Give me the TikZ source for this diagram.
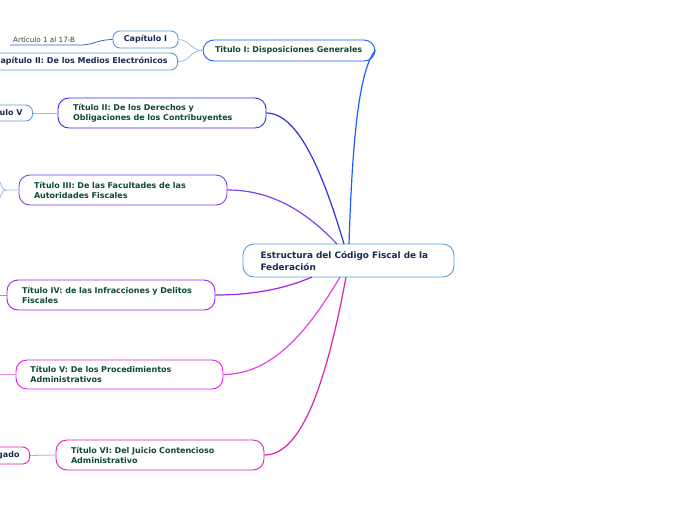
\documentclass[tikz,border=0pt]{standalone}
\usepackage{fontspec}
\setmainfont{DejaVu Sans}
\begin{document}
\begin{tikzpicture}[x=1pt,y=-1pt,
  every node/.style={font=\bfseries\fontsize{8}{10}\selectfont},
  pill/.style={draw, line width=0.9pt, rounded corners=11pt, fill=white, align=left, inner sep=0pt},
  title/.style={pill, text=titlecol, minimum height=30pt, minimum width=208pt, text width=178pt},
  sub/.style={pill, rounded corners=7pt, text=navy, minimum height=17pt, inner xsep=10pt},
  conn/.style={line width=1.2pt},
  subconn/.style={line width=0.8pt}
]
\definecolor{titlecol}{HTML}{0D4A35}
\definecolor{navy}{HTML}{1A2A50}
\definecolor{cenb}{HTML}{5AA0D8}
\definecolor{cI}{HTML}{1F5CFF}
\definecolor{cIsub}{HTML}{5B9BD5}
\definecolor{cIline}{HTML}{99BBEE}
\definecolor{cII}{HTML}{3030E0}
\definecolor{cIII}{HTML}{8040F0}
\definecolor{cIV}{HTML}{A020F0}
\definecolor{cV}{HTML}{E020E0}
\definecolor{cVI}{HTML}{E020B0}
\definecolor{art}{HTML}{2266DD}

\clip (0,0) rectangle (696,520);
\fill[white] (0,0) rectangle (696,520);

% central
\node[pill, draw=cenb, text=navy, minimum width=211pt, minimum height=33pt, text width=176pt,
      font=\bfseries\fontsize{8.9}{12}\selectfont] (central) at (348.5,260.5)
  {Estructura del Código Fiscal de la\\Federación};
\coordinate (s1) at (349,244);
\coordinate (s2) at (344,244);
\coordinate (s3) at (337,244);
\coordinate (s4) at (312,277);
\coordinate (s5) at (340,277);
\coordinate (s6) at (346,277);

% titles
\node[title, draw=cI, minimum width=172pt, minimum height=21pt, text width=148pt] (t1) at (289,50.5)
  {Titulo I: Disposiciones Generales};
\node[title, draw=cII] (t2) at (162,113) {Título II: De los Derechos y\\Obligaciones de los Contribuyentes};
\node[title, draw=cIII] (t3) at (123,190) {Título III: De las Facultades de las\\Autoridades Fiscales};
\node[title, draw=cIV] (t4) at (111,295) {Título IV: de las Infracciones y Delitos\\Fiscales};
\node[title, draw=cV, minimum width=207pt, minimum height=29pt] (t5) at (119.5,374.5) {Título V: De los Procedimientos\\Administrativos};
\node[title, draw=cVI] (t6) at (160,455) {Título VI: Del Juicio Contencioso\\Administrativo};

% sub nodes
\node[sub, draw=cIsub, minimum width=65pt, align=center, inner xsep=0pt] (cap1) at (145.5,39.5) {Capítulo I};
\node[sub, draw=cIsub, anchor=east] (cap2) at (178,61.5) {Capítulo II: De los Medios Electrónicos};
\node[sub, draw=cIsub, anchor=east, minimum height=16pt] (cap5) at (33,113) {ulo V};
\node[sub, draw=cVI, anchor=east, minimum height=17pt] (gado) at (30,455.5) {gado};
\node[font=\fontsize{7.2}{8}\selectfont, text={black!75}, anchor=west, inner sep=0pt] (art) at (13,39.5) {Artículo 1 al 17-B};
\coordinate (artL) at (10,45);
\coordinate (artR) at (80,45);

% main connectors
\draw[conn, cI] (s1) .. controls (352,150) and (358,70) .. (t1.east);
\draw[conn, cII] (s2) .. controls (325,180) and (300,113) .. (t2.east);
\draw[conn, cIII] (s3) .. controls (300,205) and (265,190) .. (t3.east);
\draw[conn, cIV] (s4) .. controls (280,291) and (245,295) .. (t4.east);
\draw[conn, cV!85!white] (s5) .. controls (300,345) and (265,374) .. (t5.east);
\draw[conn, cVI] (s6) .. controls (325,390) and (300,455) .. (t6.east);

% sub connectors
\draw[subconn, cIline] (t1.west) .. controls (190,50) and (190,40) .. (cap1.east);
\draw[subconn, cIline] (t1.west) .. controls (190,50) and (190,62) .. (cap2.east);
\draw[subconn, art] (artL) -- (artR) .. controls (95,45) and (95,40) .. (cap1.west);
\draw[subconn, cIline] (cap5.east) -- (t2.west);
\coordinate (f3) at (6,190);
\coordinate (f3a) at (0,182);
\coordinate (f3b) at (0,198);
\draw[subconn, cIline] (t3.west) -- (f3) .. controls (3,190) .. (f3a);
\draw[subconn, cIline] (f3) .. controls (3,190) .. (f3b);
\coordinate (f4) at (0,295);
\draw[subconn, cIV!60!white] (t4.west) -- (f4);
\coordinate (f5) at (0,374.5);
\draw[subconn, cV!50!white] (t5.west) -- (f5);
\draw[subconn, cVI!50!white] (gado.east) -- (t6.west);
\end{tikzpicture}
\end{document}
